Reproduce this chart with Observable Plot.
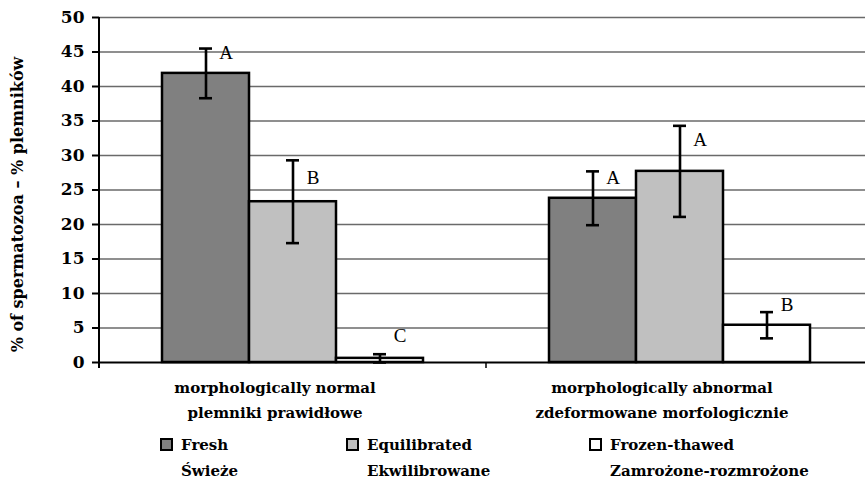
<!DOCTYPE html>
<html><head><meta charset="utf-8">
<script src="https://cdn.jsdelivr.net/npm/d3@7"></script>
<script src="https://cdn.jsdelivr.net/npm/@observablehq/plot@0.6"></script>
<style>
html,body{margin:0;padding:0;background:#fff;overflow:hidden;}
#chart{position:relative;width:865px;height:484px;font-family:"DejaVu Serif",serif;}
#chart svg{position:absolute;left:0;top:0;}
.item{position:absolute;font-weight:bold;font-size:15px;line-height:26px;white-space:nowrap;color:#000;}
.sw{position:absolute;width:9px;height:9px;border:2px solid #000;}
</style></head><body><div id="chart"></div>
<script>
const categories = ["morphologically normal\nplemniki prawidłowe", "morphologically abnormal\nzdeformowane morfologicznie"];
const series = ["Fresh", "Equilibrated", "Frozen-thawed"];
const seriesLine2 = ["Świeże", "Ekwilibrowane", "Zamrożone-rozmrożone"];
const colors = ["#808080", "#c0c0c0", "#ffffff"];
const yTicks = [0, 5, 10, 15, 20, 25, 30, 35, 40, 45, 50];
// values per category, one array per series
const freshMean = [41.9, 23.8];
const equilMean = [23.3, 27.7];
const frozenMean = [0.6, 5.4];
const freshSD = [3.6, 3.9];
const equilSD = [6.0, 6.6];
const frozenSD = [0.6, 1.9];
const freshLetter = ["A", "A"];
const equilLetter = ["B", "A"];
const frozenLetter = ["C", "B"];
const freshLetterY = [44.8, 26.8];
const equilLetterY = [26.7, 32.2];
const frozenLetterY = [3.9, 8.3];

const means = [freshMean, equilMean, frozenMean];
const sds = [freshSD, equilSD, frozenSD];
const letters = [freshLetter, equilLetter, frozenLetter];
const letterYs = [freshLetterY, equilLetterY, frozenLetterY];
const rows = categories.flatMap((c, i) => series.map((s, j) => ({
  category: c, series: s, mean: means[j][i], lo: means[j][i] - sds[j][i], hi: means[j][i] + sds[j][i],
  letter: letters[j][i], letterY: letterYs[j][i]
})));

const H = 430, baseY = 362;
const plot = Plot.plot({
  width: 865, height: H,
  marginLeft: 99, marginRight: -8, marginTop: 17, marginBottom: H - baseY,
  style: {fontFamily: "DejaVu Serif", fontWeight: "bold", fontSize: "15px", background: "transparent", overflow: "visible", color: "#000"},
  fx: {domain: categories, padding: 0, label: null},
  x: {domain: series, paddingInner: 0, paddingOuter: 0.724, axis: null},
  y: {domain: [0, 50], label: null},
  color: {domain: series, range: colors},
  marks: [
    Plot.ruleY(yTicks.slice(1), {stroke: "#6a6a6a", strokeWidth: 1.6}),
    Plot.barY(rows, {fx: "category", x: "series", y: "mean", fill: "series", stroke: "#000", strokeWidth: 2.5}),
    Plot.ruleX(rows, {fx: "category", x: "series", y1: "lo", y2: "hi", stroke: "#000", strokeWidth: 2.6}),
    Plot.tickY(rows, {fx: "category", x: "series", y: "lo", insetLeft: 37, insetRight: 37, stroke: "#000", strokeWidth: 2.6}),
    Plot.tickY(rows, {fx: "category", x: "series", y: "hi", insetLeft: 37, insetRight: 37, stroke: "#000", strokeWidth: 2.6}),
    Plot.text(rows, {fx: "category", x: "series", y: "letterY", text: "letter", dx: 20, fontWeight: "normal", fontFamily: "Liberation Serif", fontSize: 19, fill: "#000"}),
    Plot.ruleY([0], {stroke: "#000", strokeWidth: 2}),
    Plot.axisY({ticks: yTicks, tickSize: 7, tickPadding: 8, fontSize: 17, strokeWidth: 2, label: null}),
    Plot.axisFx({anchor: "bottom", tickSize: 0, tickPadding: 12, lineHeight: 1.7, fontSize: 15, dx: -18, label: null})
  ]
});
// axis line and category boundary ticks, placed with Plot's own scales
const fxS = plot.scale("fx"), yS = plot.scale("y");
const g = d3.select(plot).append("g").attr("stroke", "#000").attr("stroke-width", 2);
g.append("line").attr("x1", fxS.apply(categories[0])).attr("x2", fxS.apply(categories[0]))
  .attr("y1", yS.apply(50)).attr("y2", yS.apply(0) + 6);
g.selectAll(".bt").data(categories.slice(1)).join("line")
  .attr("x1", d => fxS.apply(d)).attr("x2", d => fxS.apply(d))
  .attr("y1", yS.apply(0)).attr("y2", yS.apply(0) + 6).attr("stroke-width", 1.5);
// y title
d3.select(plot).append("text").attr("transform", `translate(23,${(yS.apply(0) + yS.apply(50)) / 2 + 15}) rotate(-90)`)
  .attr("text-anchor", "middle").attr("font-size", 16).attr("font-weight", "bold").attr("fill", "#000")
  .text("% of spermatozoa – % plemników");

const chart = document.getElementById("chart");
chart.appendChild(plot);

// legend (HTML, below the plot)
const legendLeft = [181, 367, 610];
series.forEach((s, j) => {
  const it = document.createElement("div");
  it.className = "item";
  it.style.left = legendLeft[j] + "px";
  it.style.top = "432px";
  it.innerHTML = s + "<br>" + seriesLine2[j];
  const sw = document.createElement("div");
  sw.className = "sw";
  sw.style.left = "-21px"; sw.style.top = "6px";
  sw.style.background = colors[j];
  it.appendChild(sw);
  chart.appendChild(it);
});
</script></body></html>
